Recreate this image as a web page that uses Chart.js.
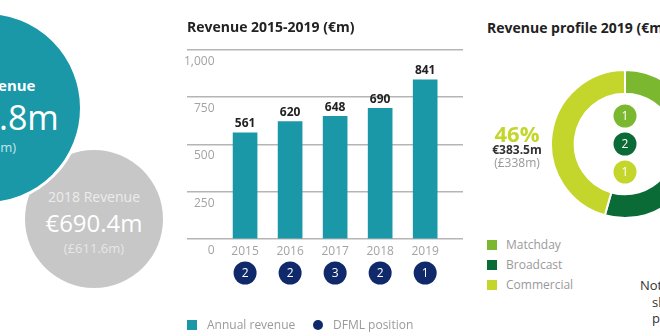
<!DOCTYPE html>
<html>
<head>
<meta charset="utf-8">
<script src="https://cdn.jsdelivr.net/npm/chart.js@4.4.1/dist/chart.umd.min.js"></script>
<style>
  html, body { margin: 0; padding: 0; background: #fff; }
  body { width: 660px; height: 336px; overflow: hidden; position: relative; font-family: "Open Sans", sans-serif; }
  .abs { position: absolute; white-space: nowrap; }
  .line { position: absolute; width: 300px; text-align: center; white-space: nowrap; }
  .circle { position: absolute; border-radius: 50%; }
  .title { font-weight: bold; font-size: 14px; color: #222; line-height: 20px; }
  .lg { font-size: 12px; color: #9a9a9a; line-height: 16px; }
  .swatch { position: absolute; width: 10px; height: 10px; }
</style>
</head>
<body>

<!-- headline circles -->
<div class="circle" style="left:25px;top:150px;width:138px;height:138px;background:#c7c7c7;"></div>
<div class="line" style="left:-56px;top:187px;line-height:20px;font-size:14px;color:#ececec;">2018 Revenue</div>
<div class="line" style="left:-56px;top:208px;line-height:30px;font-size:24px;color:#fff;">€690.4m</div>
<div class="line" style="left:-56px;top:238px;line-height:20px;font-size:13px;color:#e6e6e6;">(£611.6m)</div>

<div class="circle" style="left:-111px;top:11px;width:188px;height:188px;background:#1a98a8;border:3px solid #fff;"></div>
<div class="line" style="left:-166px;top:75px;line-height:20px;font-size:15px;font-weight:bold;color:#fff;">2019 Revenue</div>
<div class="line" style="left:-160px;top:97px;line-height:40px;font-size:34px;color:#fff;">€840.8m</div>
<div class="line" style="left:-164px;top:137px;line-height:20px;font-size:13px;color:#c4e6ea;">(£741.1m)</div>

<!-- revenue bar chart -->
<canvas id="revChart" width="293" height="336" style="position:absolute;left:177px;top:0;"></canvas>
<div id="revLegend"></div>

<!-- revenue profile -->
<div class="abs title" style="left:487px;top:18px;">Revenue profile 2019 (€m)</div>
<canvas id="profileChart" width="150" height="150" style="position:absolute;left:550px;top:69px;"></canvas>
<div class="line" style="left:367px;top:118px;line-height:30px;font-size:22px;font-weight:bold;color:#c4d62b;">46%</div>
<div class="line" style="left:367px;top:142px;line-height:16px;font-size:12px;font-weight:bold;color:#333;">€383.5m</div>
<div class="line" style="left:367px;top:155px;line-height:16px;font-size:12px;color:#999;">(£338m)</div>
<div id="profileLegend"></div>

<div class="abs" style="left:640px;top:276px;font-size:13px;line-height:18px;color:#333;">Note: Circles</div>
<div class="abs" style="left:652px;top:293px;font-size:13px;line-height:18px;color:#333;">show DFML</div>
<div class="abs" style="left:652px;top:309px;font-size:13px;line-height:18px;color:#333;">position</div>

<script>
const years = [2015, 2016, 2017, 2018, 2019];
const revenue = [561, 620, 648, 690, 841];
const dfmlPosition = [2, 2, 3, 2, 1];
const yMax = 1000;
const yStep = 250;

const profileLabels = ['Matchday', 'Broadcast', 'Commercial'];
const profileValues = [159.4, 297.9, 383.5];
const profileRanks = [1, 2, 1];
const profileColors = ['#7cb82f', '#0b6b36', '#c4d62b'];

const TEAL = '#1a98a8';
const NAVY = '#10296b';
const FONT = '"Open Sans", sans-serif';

// value labels on top of bars + DFML position badges under the axis
const barExtras = {
    id: 'barExtras',
    afterDatasetsDraw(chart) {
        const {ctx, scales: {x, y}} = chart;
        const meta = chart.getDatasetMeta(0);
        ctx.save();
        ctx.textAlign = 'center';
        ctx.textBaseline = 'middle';
        ctx.font = 'bold 12px ' + FONT;
        ctx.fillStyle = '#222';
        meta.data.forEach((bar, i) => ctx.fillText(revenue[i], bar.x, bar.y - 9));

        const rowY = y.getPixelForValue(0) + 34;
        ctx.font = '12px ' + FONT;
        years.forEach((yr, i) => {
            const cx = x.getPixelForValue(yr);
            ctx.beginPath();
            ctx.arc(cx, rowY, 11.5, 0, Math.PI * 2);
            ctx.fillStyle = NAVY;
            ctx.fill();
            ctx.fillStyle = '#fff';
            ctx.fillText(dfmlPosition[i], cx, rowY + 0.5);
        });
        ctx.restore();
    }
};

new Chart(document.getElementById('revChart'), {
    type: 'bar',
    data: {
        datasets: [{
            label: 'Annual revenue',
            data: years.map((yr, i) => ({x: yr, y: revenue[i]})),
            backgroundColor: TEAL,
            barThickness: 24
        }]
    },
    options: {
        responsive: false,
        animation: false,
        layout: {padding: {left: 10, right: 7, top: 0, bottom: 0}},
        plugins: {
            legend: {display: false},
            tooltip: {enabled: false},
            title: {
                display: true,
                text: 'Revenue 2015-2019 (€m)',
                align: 'start',
                color: '#222',
                font: {family: FONT, size: 14, weight: 'bold'},
                padding: {top: 20, bottom: 13}
            }
        },
        scales: {
            x: {
                type: 'linear',
                min: 2013.71,
                max: 2019.84,
                offset: false,
                grid: {display: false},
                border: {display: false},
                afterBuildTicks: s => { s.ticks = years.map(v => ({value: v})); },
                afterFit: s => { s.height = 97; },
                ticks: {
                    color: '#a3a3a3',
                    font: {family: FONT, size: 12},
                    padding: -3,
                    callback: v => String(v)
                }
            },
            y: {
                min: 0,
                max: yMax,
                border: {display: false},
                grid: {color: '#b5b5b5', lineWidth: 1.5, drawTicks: false},
                ticks: {
                    stepSize: yStep,
                    mirror: true,
                    crossAlign: 'far',
                    labelOffset: 11.5,
                    padding: -1,
                    color: '#a3a3a3',
                    font: {family: FONT, size: 12}
                }
            }
        }
    },
    plugins: [barExtras]
});

// rank badges stacked in the doughnut hole
const rankBadges = {
    id: 'rankBadges',
    afterDraw(chart) {
        const arc = chart.getDatasetMeta(0).data[0];
        const ctx = chart.ctx;
        ctx.save();
        ctx.textAlign = 'center';
        ctx.textBaseline = 'middle';
        ctx.font = '12px ' + FONT;
        profileRanks.forEach((r, i) => {
            const cy = arc.y + (i - 1) * 28;
            ctx.beginPath();
            ctx.arc(arc.x, cy, 11.5, 0, Math.PI * 2);
            ctx.fillStyle = profileColors[i];
            ctx.fill();
            ctx.fillStyle = '#fff';
            ctx.fillText(r, arc.x, cy + 0.5);
        });
        ctx.restore();
    }
};

new Chart(document.getElementById('profileChart'), {
    type: 'doughnut',
    data: {
        labels: profileLabels,
        datasets: [{
            data: profileValues,
            backgroundColor: profileColors,
            borderColor: '#fff',
            borderWidth: 2,
            hoverOffset: 0
        }]
    },
    options: {
        responsive: false,
        animation: false,
        cutout: '68%',
        layout: {padding: 0},
        plugins: {legend: {display: false}, tooltip: {enabled: false}}
    },
    plugins: [rankBadges]
});

// legends
function addItem(parent, left, top, color, round, text, textLeft) {
    const sw = document.createElement('div');
    sw.className = 'swatch';
    sw.style.cssText = `left:${left}px;top:${top}px;background:${color};` + (round ? 'border-radius:50%;' : '');
    parent.appendChild(sw);
    const t = document.createElement('div');
    t.className = 'abs lg';
    t.style.cssText = `left:${textLeft}px;top:${top - 3}px;`;
    t.textContent = text;
    parent.appendChild(t);
}

const revLegend = document.getElementById('revLegend');
addItem(revLegend, 187, 320, TEAL, false, 'Annual revenue', 207);
addItem(revLegend, 313, 320, NAVY, true, 'DFML position', 333);

const profileLegend = document.getElementById('profileLegend');
profileLabels.forEach((lab, i) => {
    addItem(profileLegend, 487, 240 + i * 20, profileColors[i], false, lab, 506);
});
</script>
</body>
</html>
